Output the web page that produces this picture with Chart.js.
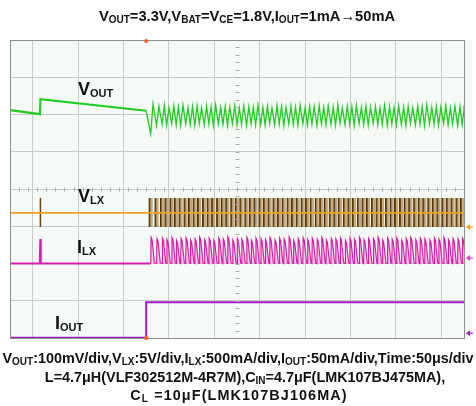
<!DOCTYPE html>
<html>
<head>
<meta charset="utf-8">
<script src="https://cdn.jsdelivr.net/npm/chart.js@4"></script>
<style>
  body { margin: 0; background: #fff; }
  #wrap { position: relative; width: 476px; height: 406px; font-family: "Liberation Sans", Arial, sans-serif; font-weight: bold; color: #111; }
  #scope { position: absolute; left: 0; top: 0; }
  .txt { position: absolute; line-height: 1; white-space: nowrap; }
  .line { left: 0; width: 476px; text-align: center; font-size: 14.4px; }
  .line sub, #title sub { font-size: 10px; vertical-align: -2px; line-height: 0; }
  .lbl { font-size: 18px; }
  .lbl sub { font-size: 11px; vertical-align: -2px; line-height: 0; }
</style>
</head>
<body>
<div id="wrap">
  <canvas id="scope" width="476" height="406"></canvas>
  <div id="title" class="txt line" style="top:9px;left:9px;font-size:14.7px">V<sub>OUT</sub>=3.3V,V<sub>BAT</sub>=V<sub>CE</sub>=1.8V,I<sub>OUT</sub>=1mA→50mA</div>
  <div class="txt lbl" style="left:78px;top:80px">V<sub>OUT</sub></div>
  <div class="txt lbl" style="left:78px;top:187px">V<sub>LX</sub></div>
  <div class="txt lbl" style="left:77px;top:238px">I<sub>LX</sub></div>
  <div class="txt lbl" style="left:55px;top:314px">I<sub>OUT</sub></div>
  <div class="txt line" style="top:351px">V<sub>OUT</sub>:100mV/div,V<sub>LX</sub>:5V/div,I<sub>LX</sub>:500mA/div,I<sub>OUT</sub>:50mA/div,Time:50μs/div</div>
  <div class="txt line" style="top:370px;left:7px">L=4.7μH(VLF302512M-4R7M),C<sub>IN</sub>=4.7μF(LMK107BJ475MA),</div>
  <div class="txt line" style="top:388px;left:1px;letter-spacing:1.1px">C<sub>L</sub> =10μF(LMK107BJ106MA)</div>
</div>
<script>

// switching pulses after the load step (time, div)
const pulseTimes = [
  3.10, 3.23, 3.35, 3.45, 3.56, 3.66, 3.76, 3.87, 3.97, 4.07,
  4.17, 4.28, 4.38, 4.48, 4.59, 4.69, 4.79, 4.90, 5.00, 5.10,
  5.21, 5.31, 5.41, 5.52, 5.62, 5.72, 5.83, 5.93, 6.03, 6.14,
  6.24, 6.34, 6.45, 6.55, 6.65, 6.76, 6.86, 6.96, 7.07, 7.17,
  7.27, 7.38, 7.48, 7.58, 7.69, 7.79, 7.89, 8.00, 8.10, 8.20,
  8.31, 8.41, 8.51, 8.62, 8.72, 8.82, 8.93, 9.03, 9.13, 9.24,
  9.34, 9.44, 9.55, 9.65, 9.75, 9.86, 9.96
];

// VOUT ripple, one valley + one peak per pulse
const voutLow = [
  5.48, 5.70, 5.74, 5.71, 5.76, 5.72, 5.70, 5.75, 5.73, 5.71,
  5.76, 5.72, 5.74, 5.70, 5.75, 5.73, 5.71, 5.76, 5.72, 5.74,
  5.70, 5.75, 5.72, 5.73, 5.71, 5.76, 5.72, 5.74, 5.70, 5.75,
  5.73, 5.71, 5.76, 5.72, 5.74, 5.70, 5.75, 5.72, 5.73, 5.71,
  5.76, 5.72, 5.74, 5.70, 5.75, 5.73, 5.71, 5.76, 5.72, 5.74,
  5.70, 5.75, 5.72, 5.73, 5.71, 5.76, 5.72, 5.74, 5.70, 5.75,
  5.73, 5.71, 5.76, 5.72, 5.74, 5.70, 5.73
];
const voutHigh = [
  6.28, 6.22, 6.24, 6.18, 6.23, 6.20, 6.25, 6.19, 6.22, 6.24,
  6.18, 6.23, 6.21, 6.25, 6.19, 6.22, 6.20, 6.24, 6.18, 6.23,
  6.21, 6.19, 6.25, 6.20, 6.22, 6.18, 6.24, 6.21, 6.19, 6.23,
  6.20, 6.25, 6.18, 6.22, 6.21, 6.24, 6.19, 6.23, 6.20, 6.26,
  6.18, 6.22, 6.21, 6.24, 6.19, 6.23, 6.20, 6.22, 6.18, 6.25,
  6.21, 6.19, 6.24, 6.20, 6.22, 6.18, 6.23, 6.21, 6.27, 6.19,
  6.22, 6.20, 6.24, 6.18, 6.23, 6.21, 6.24
];
// VOUT before the step: slow droop, one refill pulse
const voutPreX = [0, 0.66, 0.67, 3.0];
const voutPreY = [6.12, 6.01, 6.41, 6.10];

// ILX peak of every pulse
const ilxPeak = [
  2.70, 2.66, 2.68, 2.64, 2.70, 2.62, 2.67, 2.69, 2.63, 2.66,
  2.71, 2.64, 2.68, 2.62, 2.69, 2.66, 2.72, 2.63, 2.67, 2.65,
  2.70, 2.62, 2.68, 2.66, 2.64, 2.70, 2.63, 2.68, 2.66, 2.71,
  2.62, 2.67, 2.69, 2.64, 2.68, 2.65, 2.70, 2.63, 2.67, 2.66,
  2.69, 2.62, 2.68, 2.65, 2.70, 2.64, 2.67, 2.66, 2.71, 2.63,
  2.68, 2.65, 2.69, 2.62, 2.67, 2.70, 2.64, 2.68, 2.66, 2.63,
  2.69, 2.65, 2.70, 2.64, 2.67, 2.66, 2.68
];
const ilxBase = 2.0;
const ilxSpikeTime = 0.665;
const ilxSpikePeak = 2.66;

// VLX levels
const vlxLow = 2.98;
const vlxBase = 3.36;
const vlxHigh = 3.76;
const vlxSpikeTime = 0.67;

// IOUT load step 1mA -> 50mA
const ioutX = [0, 3.0, 3.0, 10];
const ioutY = [0.01, 0.01, 0.96, 0.96];

const triggerTime = 3.0;

// build the point lists
let voutData = voutPreX.map((x, i) => ({ x: x, y: voutPreY[i] }));
pulseTimes.forEach((t, i) => {
  voutData.push({ x: t, y: voutLow[i] });
  voutData.push({ x: t + 0.05, y: voutHigh[i] });
});
voutData.push({ x: 10, y: 5.95 });

let ilxData = [
  { x: 0, y: ilxBase },
  { x: ilxSpikeTime - 0.01, y: ilxBase },
  { x: ilxSpikeTime, y: ilxSpikePeak },
  { x: ilxSpikeTime + 0.015, y: ilxBase },
];
pulseTimes.forEach((t, i) => {
  ilxData.push({ x: t, y: ilxBase });
  ilxData.push({ x: t + 0.008, y: ilxPeak[i] });
  ilxData.push({ x: t + 0.03, y: ilxPeak[i] - 0.06 });
  ilxData.push({ x: t + 0.08, y: ilxBase + 0.02 });
});
ilxData.push({ x: 10, y: ilxBase });

const vlxBars = pulseTimes.map((t) => ({ x: t, y: [vlxLow, vlxHigh] }));
const ioutData = ioutX.map((x, i) => ({ x: x, y: ioutY[i] }));

// scope screen decorations: background, minor ticks, frame, markers
const scopeDecor = {
  id: "scopeDecor",
  beforeDraw(chart) {
    const { ctx, chartArea: a } = chart;
    ctx.save();
    ctx.fillStyle = "#f5faf6";
    ctx.fillRect(a.left, a.top, a.right - a.left + 8, a.bottom - a.top + 1);
    ctx.restore();
  },
  afterDatasetsDraw(chart) {
    const { ctx, chartArea: a } = chart;
    const xs = chart.scales.x, ys = chart.scales.y;
    const cx = Math.round(xs.getPixelForValue(5)) + 0.5;
    const cy = Math.round(ys.getPixelForValue(4)) + 0.5;
    ctx.save();
    ctx.strokeStyle = "#aaaaaa";
    ctx.lineWidth = 1;
    ctx.beginPath();
    for (let v = 0.2; v < 8; v += 0.2) {
      const y = Math.round(ys.getPixelForValue(v)) + 0.5;
      ctx.moveTo(cx - 2, y); ctx.lineTo(cx + 2, y);
    }
    for (let v = 0.2; v < 10; v += 0.2) {
      const x = Math.round(xs.getPixelForValue(v)) + 0.5;
      ctx.moveTo(x, cy - 2); ctx.lineTo(x, cy + 2);
    }
    ctx.stroke();

    // frame
    ctx.strokeStyle = "#8e8e8e";
    ctx.strokeRect(a.left + 0.5, a.top + 0.5, a.right - a.left, a.bottom - a.top);

    // trigger position marks
    const tx = xs.getPixelForValue(triggerTime);
    ctx.fillStyle = "#ff5a1e";
    ctx.beginPath(); ctx.arc(tx, a.top + 1, 2, 0, Math.PI * 2); ctx.fill();
    ctx.beginPath(); ctx.arc(tx, a.bottom, 2, 0, Math.PI * 2); ctx.fill();

    // channel ground markers on the right edge
    const marks = [
      { y: vlxLow, c: "#f0a020" },
      { y: 2.15, c: "#e040c0" },
      { y: 0.13, c: "#a020c8" },
    ];
    marks.forEach((m) => {
      const y = ys.getPixelForValue(m.y);
      const x = a.right + 2;
      ctx.fillStyle = m.c;
      ctx.beginPath();
      ctx.moveTo(x, y); ctx.lineTo(x + 4, y - 3); ctx.lineTo(x + 4, y + 3); ctx.closePath();
      ctx.fill();
      ctx.fillRect(x + 3, y - 0.5, 4, 1.2);
    });
    ctx.restore();
  },
};

const ctx = document.getElementById("scope").getContext("2d");
new Chart(ctx, {
  type: "line",
  data: {
    datasets: [
      {
        label: "VOUT",
        data: voutData,
        borderColor: "#22cc22",
        borderWidth: 1.3,
        segment: { borderWidth: (c) => (c.p0.parsed.x < triggerTime ? 2.2 : 1.3) },
        pointRadius: 0,
        order: 1,
      },
      {
        label: "VLX base",
        data: [{ x: 0, y: vlxBase }, { x: 10, y: vlxBase }],
        borderColor: "#f0a020",
        borderWidth: 1.6,
        pointRadius: 0,
        order: 2,
      },
      {
        label: "VLX spike",
        data: [{ x: vlxSpikeTime, y: vlxLow }, { x: vlxSpikeTime, y: vlxHigh }],
        borderColor: "#6a4510",
        borderWidth: 1.5,
        pointRadius: 0,
        order: 3,
      },
      {
        type: "bar",
        label: "VLX",
        data: vlxBars,
        barThickness: 4,
        backgroundColor: "rgba(160,120,60,0.62)",
        borderColor: "#553505",
        borderWidth: { left: 1.4, top: 0, right: 0, bottom: 0 },
        borderSkipped: false,
        order: 4,
      },
      {
        label: "ILX",
        data: ilxData,
        borderColor: "#d81ea8",
        borderWidth: 1.2,
        segment: { borderWidth: (c) => (c.p0.parsed.x < triggerTime ? 1.8 : 1.2) },
        backgroundColor: "rgba(230,130,205,0.3)",
        fill: { value: ilxBase },
        pointRadius: 0,
        order: 5,
      },
      {
        label: "IOUT",
        data: ioutData,
        borderColor: "#a018c8",
        borderWidth: 2,
        pointRadius: 0,
        order: 6,
      },
    ],
  },
  options: {
    responsive: false,
    animation: false,
    layout: { padding: { left: 10, right: 12, top: 40, bottom: 68 } },
    plugins: { legend: { display: false }, tooltip: { enabled: false } },
    scales: {
      x: {
        type: "linear", min: 0, max: 10, offset: false,
        ticks: { display: false, stepSize: 1 },
        grid: { color: "#cacaca", drawTicks: false },
        border: { display: false },
      },
      y: {
        type: "linear", min: 0, max: 8,
        ticks: { display: false, stepSize: 1 },
        grid: { color: "#cacaca", drawTicks: false },
        border: { display: false },
      },
    },
  },
  plugins: [scopeDecor],
});
</script>
</body>
</html>
